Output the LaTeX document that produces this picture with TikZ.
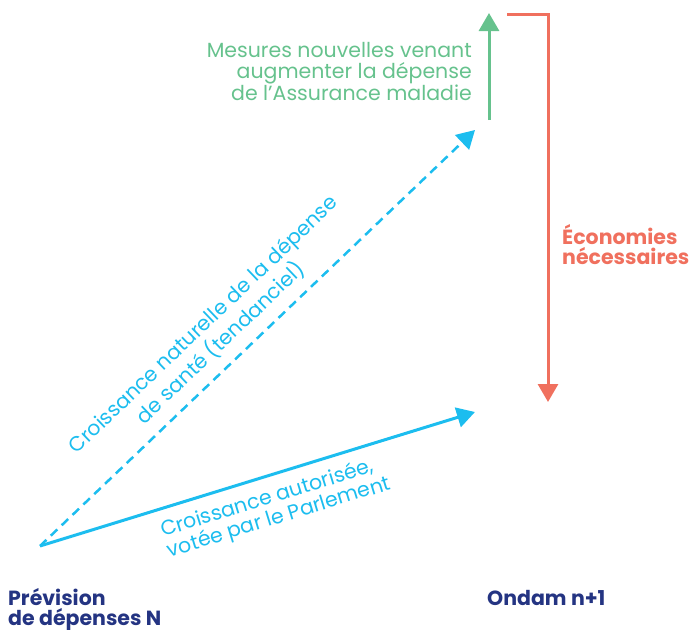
\documentclass[tikz,border=0pt]{standalone}
\usepackage{fontspec}
\setmainfont{Poppins}
\usetikzlibrary{arrows.meta}
\usetikzlibrary{positioning}
\definecolor{mcyan}{RGB}{28, 189, 239}
\definecolor{mgreen}{RGB}{102, 194, 141}
\definecolor{mred}{RGB}{240, 112, 94}
\definecolor{mnavy}{RGB}{36, 52, 130}
\tikzset{arr/.style = {line width = 3pt, -{Triangle[length = 18pt, width = 20pt]}}}
\tikzset{txt/.style = {font = \fontsize{20.5}{21.5}\selectfont, inner sep = 0}}
\tikzset{bold/.style = {font = \fontsize{20.5}{20}\selectfont\bfseries, inner sep = 0, align = left}}

\begin{document}
\begin{tikzpicture}[x = 1pt, y = -1pt]
    \useasboundingbox (0, 0) rectangle (689, 630);

    \coordinate (prev) at (40, 546);
    \coordinate (ondam) at (475, 412);
    \coordinate (tend) at (475, 130);
    \coordinate (nvbas) at (489, 120);
    \coordinate (nvhaut) at (489, 13);
    \coordinate (ecohaut) at (507, 14);
    \coordinate (ecobas) at (548, 402);

    % hausse votee et hausse tendancielle
    \draw [mcyan, arr] (prev) -- node [txt, sloped, below, pos = 0.52, align = left, inner sep = 10pt]
        {Croissance autorisée,\\votée par le Parlement} (ondam);
    \draw [mcyan, arr, line width = 2.5pt, dash pattern = on 9pt off 6pt] (prev) --
        node [txt, sloped, above, pos = 0.45, align = center, inner sep = 10pt]
        {Croissance naturelle de la dépense\\de santé (tendanciel)} (tend);

    \draw [mgreen, arr] (nvbas) -- (nvhaut);
    \draw [mred, arr, line join = miter] (ecohaut) -| (ecobas);

    \node [txt, mgreen, align = right, anchor = north east] (mesures) at (472, 42)
        {Mesures nouvelles venant\\augmenter la dépense\\de l'Assurance maladie};
    \node [bold, mred, anchor = north west] (eco) at (562, 224) {Économies\\nécessaires};

    \node [bold, mnavy, anchor = north west] (prevn) at (8, 588) {Prévision\\de dépenses N};
    \node [bold, mnavy, anchor = north west] (ondamn) at (487, 590) {Ondam n+1};
  \end{tikzpicture}
\end{document}
